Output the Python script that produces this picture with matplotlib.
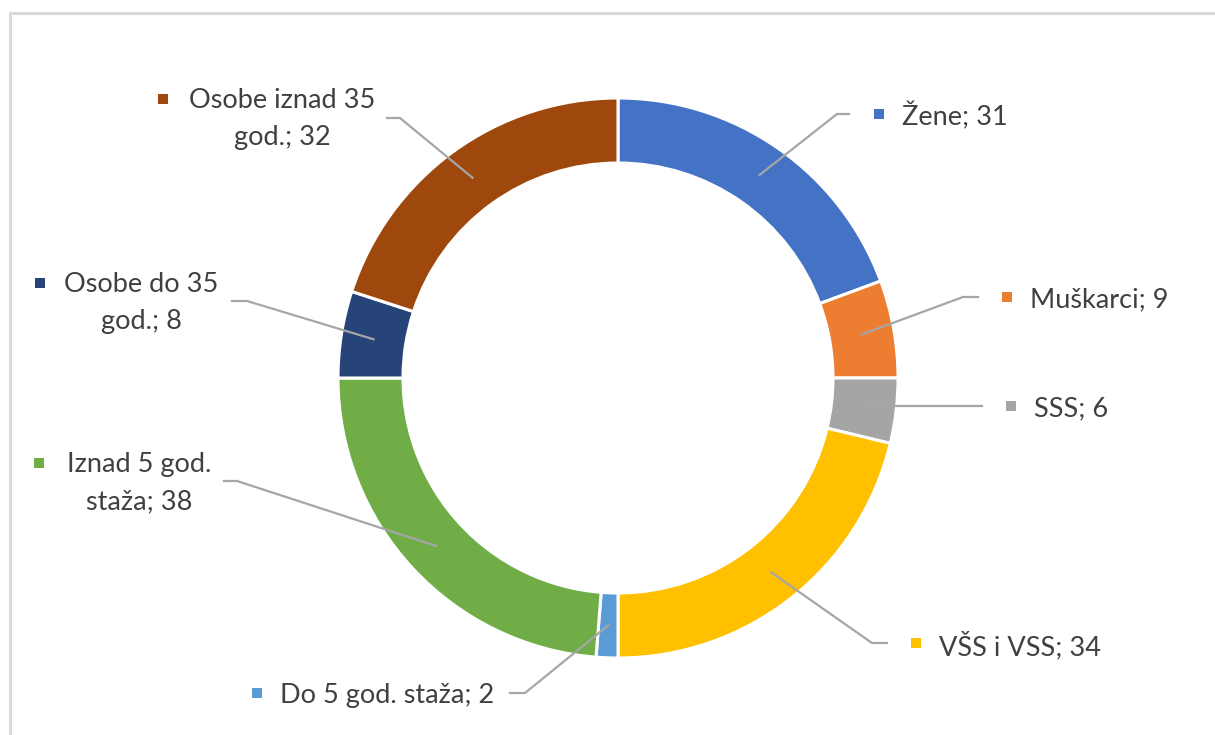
import numpy as np
import matplotlib.pyplot as plt

# donut data (clockwise from 12 o'clock)
categories = ['Žene', 'Muškarci', 'SSS', 'VŠS i VSS', 'Do 5 god. staža',
              'Iznad 5 god. staža', 'Osobe do 35 god.', 'Osobe iznad 35 god.']
values = [31, 9, 6, 34, 2, 38, 8, 32]
colors = ['#4472C4', '#ED7D31', '#A5A5A5', '#FFC000', '#5B9BD5',
          '#70AD47', '#264478', '#9E480E']
# where the long labels wrap onto a second line
wraps = {'Iznad 5 god. staža': 'Iznad 5 god.\nstaža',
         'Osobe do 35 god.': 'Osobe do 35\ngod.',
         'Osobe iznad 35 god.': 'Osobe iznad 35\ngod.'}

W, H = 1215, 735
CX, CY, R, RING = 618, H - 378, 280, 65

# label layout in pixels (y measured from top): marker, leader elbow, leader end
markers = [(879, 114), (1007, 297), (1011, 406), (916, 643), (257, 693),
           (39, 463), (40, 283), (163, 99)]
elbows = [(837, 114), (963, 297), (870, 406), (872, 643), (525, 693),
          (237, 481), (247, 301), (400, 118)]
ends = [(849, 114), (978, 297), (982, 406), (887, 643), (510, 693),
        (224, 481), (232, 301), (387, 118)]
# centre x of two-line labels
centers = {5: 139, 6: 141.5, 7: 282.5}

plt.rcParams['font.family'] = ['Lato', 'DejaVu Sans']
fig = plt.figure(figsize=(W / 100, H / 100), dpi=100)
ax = fig.add_axes([0, 0, 1, 1])

ax.pie(values, colors=colors, startangle=90, counterclock=False,
       center=(CX, CY), radius=R,
       wedgeprops=dict(width=RING, edgecolor='white', linewidth=2.2))
ax.set_xlim(0, W)
ax.set_ylim(0, H)
ax.axis('off')

# chart frame (only top/left visible)
ax.plot([10, 10, W + 5], [-5, H - 13, H - 13], color='#D9D9D9', lw=2.2,
        solid_joinstyle='miter')

total = sum(values)
cum = np.cumsum([0] + values[:-1])
txt_color = '#404040'
fs = 19.5
for i, (cat, val) in enumerate(zip(categories, values)):
    mid = np.deg2rad(90 - (cum[i] + val / 2) / total * 360)
    rm = R - RING / 2
    sx, sy = CX + rm * np.cos(mid), CY + rm * np.sin(mid)
    ex, ey = elbows[i]
    tx, ty = ends[i]
    ax.plot([sx, ex, tx], [sy, H - ey, H - ty], color='#A6A6A6', lw=1.6)

    mx, my = markers[i]
    ax.scatter([mx], [H - my], marker='s', s=62, color=colors[i], linewidths=0)
    label = f'{wraps.get(cat, cat)}; {val}'
    if i in centers:
        ax.text(centers[i], H - my - 20, label, ha='center', va='center',
                multialignment='center', fontsize=fs, color=txt_color,
                linespacing=1.62)
    else:
        ax.text(mx + 23, H - my, label, ha='left', va='center_baseline',
                fontsize=fs, color=txt_color)

fig.savefig('out.png', dpi=100)
